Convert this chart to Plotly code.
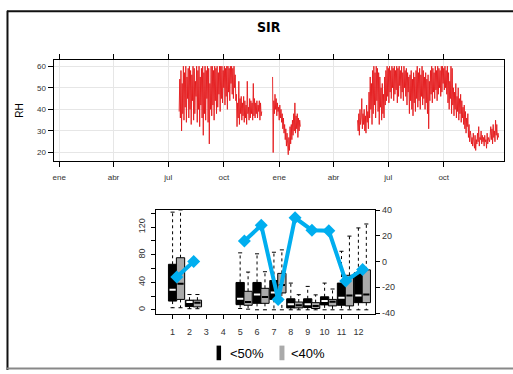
import plotly.graph_objects as go
import pandas as pd

# ---------------- data ----------------
# top panel: RH time series (three recorded segments, daily readings)
seg_starts = ["2010-07-19", "2010-12-21", "2011-05-11"]
seg1_rh = [39, 54, 36, 58, 30, 52, 38, 60, 35, 57,
           41, 60, 34, 55, 45, 59, 36, 60, 40, 58,
           33, 56, 44, 60, 35, 59, 38, 53, 46, 60,
           34, 58, 40, 60, 32, 55, 42, 59, 36, 60,
           28, 57, 38, 60, 35, 58, 45, 60, 34, 59,
           24, 52, 40, 60, 37, 60, 42, 58, 35, 60,
           44, 59, 38, 60, 41, 57, 47, 60, 39, 60,
           45, 60, 43, 58, 50, 60, 42, 59, 46, 60,
           40, 60, 48, 59, 44, 60, 52, 60, 47, 59,
           45, 60, 50, 56, 44, 47, 32, 43, 36, 53,
           33, 45, 38, 46, 35, 43, 37, 46, 34, 44,
           36, 42, 33, 53, 38, 41, 35, 45, 36, 44,
           38, 43, 35, 52, 37, 45, 36, 43, 38, 44,
           36, 42, 39, 44, 35, 43, 37, 39]
seg2_rh = [55, 20, 44, 38, 47, 40, 45, 37, 43, 39,
           41, 35, 42, 36, 40, 34, 38, 31, 36, 29,
           33, 26, 31, 23, 29, 22, 19, 27, 21, 32,
           24, 33, 26, 35, 28, 38, 30, 43, 29, 37,
           31, 38, 27, 36, 30, 35, 32]
seg3_rh = [35, 30, 38, 28, 40, 33, 36, 45, 31, 38,
           33, 40, 30, 37, 29, 42, 34, 39, 31, 48,
           36, 55, 40, 52, 33, 58, 38, 60, 42, 57,
           36, 60, 44, 59, 39, 57, 33, 55, 41, 50,
           35, 52, 38, 47, 36, 55, 42, 58, 44, 60,
           46, 59, 43, 60, 48, 58, 45, 60, 50, 59,
           44, 60, 47, 58, 49, 60, 43, 59, 46, 60,
           51, 58, 45, 60, 48, 57, 44, 60, 50, 58,
           46, 59, 42, 57, 48, 55, 38, 56, 44, 58,
           40, 54, 37, 57, 43, 55, 39, 58, 45, 60,
           41, 57, 44, 59, 40, 56, 46, 60, 42, 58,
           45, 55, 40, 57, 43, 54, 38, 56, 31, 53,
           44, 58, 47, 60, 43, 59, 48, 57, 45, 60,
           49, 58, 44, 60, 47, 59, 50, 58, 46, 60,
           48, 60, 52, 59, 49, 60, 50, 58, 47, 60,
           43, 57, 40, 53, 45, 60, 38, 59, 42, 50,
           37, 48, 40, 52, 36, 46, 39, 50, 35, 45,
           38, 47, 34, 44, 36, 41, 33, 42, 31, 39,
           29, 36, 32, 38, 27, 33, 25, 30, 28, 24,
           27, 23, 29, 25, 22, 28, 21, 26, 24, 29,
           25, 32, 23, 27, 26, 30, 24, 28, 25, 27,
           23, 28, 25, 26, 22, 29, 24, 27, 26, 25,
           28, 32, 26, 31, 24, 33, 27, 30, 25, 35,
           28, 33, 26, 29, 27]
top_tick_dates = ["2010-01-01", "2010-04-01", "2010-07-01", "2010-10-01",
                  "2011-01-01", "2011-04-01", "2011-07-01", "2011-10-01"]
top_tick_text = ["ene", "abr", "jul", "oct", "ene", "abr", "jul", "oct"]
top_x_range = ["2009-12-22 16:00", "2012-01-09"]
rh_ticks = [20, 30, 40, 50, 60]

# bottom panel: monthly box statistics (<50% black, <40% grey)
months = [1, 2, 5, 6, 7, 8, 9, 10, 11, 12]
b50_low = [3, 1.6, 1.9, 0, 0, 0, 0, 0, 0, 0]
b50_q1 = [12.7, 4.7, 7.5, 9.4, 15.1, 2.8, 3.3, 7.1, 6.6, 10.4]
b50_med = [29.3, 11.3, 16, 22.2, 25.3, 8, 8, 12.7, 17.6, 20.8]
b50_q3 = [66.1, 14, 39.7, 39.7, 42.5, 16, 16, 18.9, 38.8, 53.8]
b50_high = [141.8, 22.2, 82.7, 81.3, 83.6, 38.8, 34, 38.8, 85, 118.9]

b40_low = [3, 1.6, 0.9, 0, 0, 0, 0, 0, 0, 0]
b40_q1 = [15.1, 4.3, 6.6, 9.4, 24.5, 2.8, 1.9, 5.7, 5.7, 10.4]
b40_med = [37.8, 10.4, 11.3, 18.5, 35.9, 6.6, 5.7, 11.8, 20.8, 22.2]
b40_q3 = [75.6, 14, 26.9, 31.2, 52.9, 11.3, 10.4, 15.1, 50.1, 58]
b40_high = [145, 22.2, 54.8, 55.3, 87, 22, 21.7, 30.2, 107, 124.6]

# blue line (right axis), all 12 months
line_months = list(range(1, 13))
line_vals = [-12, 0, None, None, 16, 28.2, -29.5, 34, 24.4, 23.9, -15.1, -6.1]

month_labels = [str(m) for m in range(1, 13)]
left_ticks = [0, 20, 40, 60, 80, 100, 120, 140]
left_tick_text = ["0", "", "40", "", "80", "", "120", ""]
right_ticks = [40, 20, 0, -20, -40]
right_tick_text = ["40", "20", "0", "-20", "-40"]

legend_labels = ["<50%", "<40%"]

# ---------------- figure ----------------
W, H = 513, 374
def fx(p):
    return p / W
def fy(p):
    return 1 - p / H

BLACK = "#000000"
GREY = "#AAAAAA"
RED = "#E41A1C"
BLUE = "#00AEEF"
TXT = "#333333"

fig = go.Figure()

xs, ys = [], []
for start, vals in zip(seg_starts, [seg1_rh, seg2_rh, seg3_rh]):
    d = pd.date_range(start, periods=len(vals), freq="D")
    xs += list(d)
    ys += list(vals)
    xs.append(None)
    ys.append(None)
fig.add_trace(go.Scatter(x=xs, y=ys, mode="lines", line=dict(color=RED, width=0.9),
                         connectgaps=False, xaxis="x", yaxis="y", showlegend=False))

# boxes
off_grey = 0.47
bw = 0.49
for offs, col, lo, q1, med, q3, hi, medcol in [
        (0.0, BLACK, b50_low, b50_q1, b50_med, b50_q3, b50_high, "#FFFFFF"),
        (off_grey, GREY, b40_low, b40_q1, b40_med, b40_q3, b40_high, "#000000")]:
    xc = [m + offs for m in months]
    # whiskers (dotted)
    wx, wy = [], []
    for x, a, b, c, d in zip(xc, lo, q1, q3, hi):
        wx += [x, x, None, x, x, None]
        wy += [b, a, None, c, d, None]
    fig.add_trace(go.Scatter(x=wx, y=wy, mode="lines", line=dict(color=BLACK, width=1, dash="dot"),
                             xaxis="x2", yaxis="y2", showlegend=False))
    # staples
    sx, sy = [], []
    for x, a, d in zip(xc, lo, hi):
        sx += [x - 0.12, x + 0.12, None, x - 0.12, x + 0.12, None]
        sy += [a, a, None, d, d, None]
    fig.add_trace(go.Scatter(x=sx, y=sy, mode="lines", line=dict(color=BLACK, width=1),
                             xaxis="x2", yaxis="y2", showlegend=False))
    # boxes
    fig.add_trace(go.Bar(x=xc, y=[c - b for b, c in zip(q1, q3)], base=q1, width=bw,
                         marker=dict(color=col, line=dict(color=BLACK, width=1)),
                         xaxis="x2", yaxis="y2", showlegend=False))
    # medians
    mx, my = [], []
    for x, m in zip(xc, med):
        mx += [x - bw / 2 + 0.06, x + bw / 2 - 0.06, None]
        my += [m, m, None]
    fig.add_trace(go.Scatter(x=mx, y=my, mode="lines", line=dict(color=medcol, width=2),
                             xaxis="x2", yaxis="y2", showlegend=False))

# blue line on right axis
fig.add_trace(go.Scatter(x=[m + 0.25 for m in line_months], y=line_vals, mode="lines+markers",
                         line=dict(color=BLUE, width=4),
                         marker=dict(symbol="diamond", size=10, color=BLUE),
                         connectgaps=False, xaxis="x2", yaxis="y3", showlegend=False))

axfont = dict(family="Liberation Sans, Arial, sans-serif", size=8, color=TXT)
axfont9 = dict(family="Liberation Sans, Arial, sans-serif", size=9, color=TXT)

fig.update_layout(
    width=W, height=H, margin=dict(l=0, r=0, t=0, b=0),
    paper_bgcolor="white", plot_bgcolor="white", barmode="overlay",
    xaxis=dict(domain=[fx(52.7), fx(504)], type="date", range=top_x_range,
               tickvals=top_tick_dates, ticktext=top_tick_text,
               showgrid=True, gridcolor="#E6E6E6", gridwidth=1,
               showline=True, linecolor=BLACK, linewidth=1, mirror="ticks",
               ticks="outside", ticklen=5, tickcolor=BLACK, tickfont=axfont,
               ticklabelstandoff=3, zeroline=False, anchor="y"),
    yaxis=dict(domain=[fy(160.3), fy(56.7)], range=[15.9, 62.7], tickvals=rh_ticks,
               showgrid=True, gridcolor="#E6E6E6", gridwidth=1,
               showline=True, linecolor=BLACK, linewidth=1, mirror=True,
               ticks="outside", ticklen=5, tickcolor=BLACK, tickfont=axfont,
               zeroline=False, anchor="x"),
    xaxis2=dict(domain=[fx(155), fx(375)], range=[0, 13], tickvals=line_months, ticktext=month_labels,
                showgrid=False, showline=True, linecolor=BLACK, linewidth=1, mirror=True,
                ticks="outside", ticklen=4, tickcolor=BLACK, tickfont=axfont9,
                ticklabelstandoff=5, zeroline=False, anchor="y2"),
    yaxis2=dict(domain=[fy(316.7), fy(210)], range=[-6.2, 145], tickvals=left_ticks,
                ticktext=left_tick_text, tickangle=-90,
                showgrid=False, showline=True, linecolor=BLACK, linewidth=1, mirror=True,
                ticks="outside", ticklen=4, tickcolor=BLACK, tickfont=axfont9,
                ticklabelstandoff=2, zeroline=False, anchor="x2"),
    yaxis3=dict(overlaying="y2", side="right", anchor="x2", range=[-40.8, 40.1],
                tickvals=right_ticks, ticktext=right_tick_text,
                showgrid=False, showline=False, zeroline=False,
                ticks="outside", ticklen=4, tickcolor=BLACK, tickfont=axfont9),
)

ann = []
ann.append(dict(text="<b>SIR</b>", x=fx(269), y=fy(23), xref="paper", yref="paper",
                showarrow=False, xanchor="center", yanchor="middle",
                font=dict(family="Liberation Sans Narrow, DejaVu Sans Condensed, Arial", size=14, color="#000")))
ann.append(dict(text="RH", x=fx(18.3), y=fy(108), xref="paper", yref="paper", textangle=-90,
                showarrow=False, xanchor="center", yanchor="middle",
                font=dict(family="Liberation Sans, Arial", size=10, color="#000")))
ann.append(dict(text=legend_labels[0], x=fx(227), y=fy(357), xref="paper", yref="paper",
                showarrow=False, xanchor="left", yanchor="middle",
                font=dict(family="Liberation Sans, Arial", size=13, color="#000")))
ann.append(dict(text=legend_labels[1], x=fx(289), y=fy(357), xref="paper", yref="paper",
                showarrow=False, xanchor="left", yanchor="middle",
                font=dict(family="Liberation Sans, Arial", size=13, color="#000")))
fig.update_layout(annotations=ann)

shapes = [
    dict(type="line", xref="paper", yref="paper", x0=fx(6), x1=1, y0=fy(6.5), y1=fy(6.5),
         line=dict(color="#111", width=2)),
    dict(type="line", xref="paper", yref="paper", x0=fx(6.5), x1=fx(6.5), y0=fy(6), y1=0,
         line=dict(color="#111", width=2)),
    dict(type="line", xref="paper", yref="paper", x0=fx(6), x1=1, y0=fy(372.5), y1=fy(372.5),
         line=dict(color="#888", width=2)),
    dict(type="rect", xref="paper", yref="paper", x0=fx(216), x1=fx(220.5), y0=fy(364), y1=fy(349),
         fillcolor=BLACK, line=dict(width=0)),
    dict(type="rect", xref="paper", yref="paper", x0=fx(279), x1=fx(284), y0=fy(364), y1=fy(349),
         fillcolor=GREY, line=dict(width=0)),
]
fig.update_layout(shapes=shapes)

fig.write_html("out.html")
